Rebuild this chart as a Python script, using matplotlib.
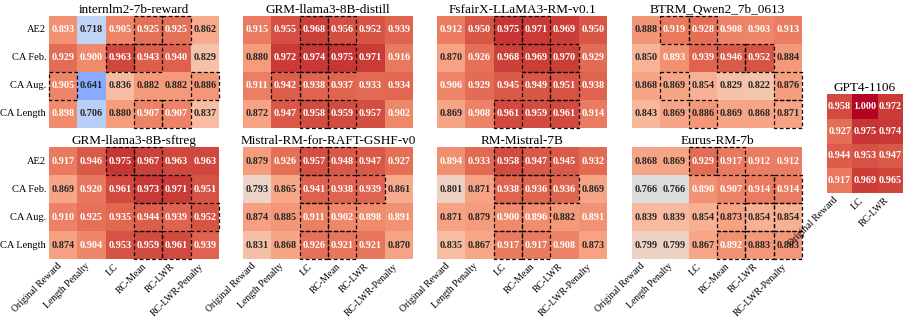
import matplotlib
matplotlib.use("Agg")
import matplotlib.pyplot as plt
import numpy as np
import seaborn as sns
from matplotlib.patches import Rectangle

plt.rcParams['font.family'] = ['Liberation Serif', 'DejaVu Serif']

row_labels = ["AE2", "CA Feb.", "CA Aug.", "CA Length"]
col_labels = ["Original Reward", "Length Penalty", "LC", "RC-Mean", "RC-LWR", "RC-LWR-Penalty"]

titles = [
    "internlm2-7b-reward", "GRM-llama3-8B-distill", "FsfairX-LLaMA3-RM-v0.1", "BTRM_Qwen2_7b_0613",
    "GRM-llama3-8B-sftreg", "Mistral-RM-for-RAFT-GSHF-v0", "RM-Mistral-7B", "Eurus-RM-7b",
]

internlm2 = [[0.893, 0.718, 0.905, 0.925, 0.925, 0.862],
             [0.929, 0.900, 0.963, 0.943, 0.940, 0.829],
             [0.905, 0.641, 0.836, 0.882, 0.882, 0.886],
             [0.898, 0.706, 0.880, 0.907, 0.907, 0.837]]
grm_distill = [[0.915, 0.955, 0.968, 0.956, 0.952, 0.939],
               [0.880, 0.972, 0.974, 0.975, 0.971, 0.916],
               [0.911, 0.942, 0.938, 0.937, 0.933, 0.934],
               [0.872, 0.947, 0.958, 0.959, 0.957, 0.902]]
fsfairx = [[0.912, 0.950, 0.975, 0.971, 0.969, 0.950],
           [0.870, 0.926, 0.968, 0.969, 0.970, 0.929],
           [0.906, 0.929, 0.945, 0.949, 0.951, 0.938],
           [0.869, 0.908, 0.961, 0.959, 0.961, 0.914]]
btrm = [[0.888, 0.919, 0.928, 0.908, 0.903, 0.913],
        [0.850, 0.893, 0.939, 0.946, 0.952, 0.884],
        [0.868, 0.869, 0.854, 0.829, 0.822, 0.876],
        [0.843, 0.869, 0.886, 0.869, 0.868, 0.871]]
grm_sftreg = [[0.917, 0.946, 0.975, 0.967, 0.963, 0.963],
              [0.869, 0.920, 0.961, 0.973, 0.971, 0.951],
              [0.910, 0.925, 0.935, 0.944, 0.939, 0.952],
              [0.874, 0.904, 0.953, 0.959, 0.961, 0.939]]
mistral_raft = [[0.879, 0.926, 0.957, 0.948, 0.947, 0.927],
                [0.793, 0.865, 0.941, 0.938, 0.939, 0.861],
                [0.874, 0.885, 0.911, 0.902, 0.898, 0.891],
                [0.831, 0.868, 0.926, 0.921, 0.921, 0.870]]
rm_mistral = [[0.894, 0.933, 0.958, 0.947, 0.945, 0.932],
              [0.801, 0.871, 0.938, 0.936, 0.936, 0.869],
              [0.871, 0.879, 0.900, 0.896, 0.882, 0.891],
              [0.835, 0.867, 0.917, 0.917, 0.908, 0.873]]
eurus = [[0.868, 0.869, 0.929, 0.917, 0.912, 0.912],
         [0.766, 0.766, 0.890, 0.907, 0.914, 0.914],
         [0.839, 0.839, 0.854, 0.873, 0.854, 0.854],
         [0.799, 0.799, 0.867, 0.892, 0.883, 0.883]]

# highlighted (row, col) cells, drawn with dashed boxes
best_cells = [
    [(0, 3), (0, 4), (1, 2), (1, 3), (2, 0), (2, 5), (3, 3), (3, 4)],
    [(0, 2), (0, 3), (1, 2), (1, 3), (2, 1), (2, 2), (3, 2), (3, 3)],
    [(0, 2), (0, 3), (1, 3), (1, 4), (2, 3), (2, 4), (3, 2), (3, 4)],
    [(0, 1), (0, 2), (1, 3), (1, 4), (2, 1), (2, 5), (3, 2), (3, 5)],
    [(0, 2), (0, 3), (1, 3), (1, 4), (2, 3), (2, 5), (3, 3), (3, 4)],
    [(0, 2), (0, 3), (1, 2), (1, 4), (2, 2), (2, 3), (3, 2), (3, 3)],
    [(0, 2), (0, 3), (1, 2), (1, 3), (1, 4), (2, 2), (2, 3), (3, 2), (3, 3)],
    [(0, 2), (0, 3), (1, 4), (1, 5), (2, 3), (2, 4), (2, 5), (3, 3), (3, 4), (3, 5)],
]

gpt4_cols = ["Original Reward", "LC", "RC-LWR"]
gpt4 = [[0.958, 1.000, 0.972],
        [0.927, 0.975, 0.974],
        [0.944, 0.953, 0.947],
        [0.917, 0.969, 0.965]]

panels = [internlm2, grm_distill, fsfairx, btrm, grm_sftreg, mistral_raft, rm_mistral, eurus]

fig = plt.figure(figsize=(9.14, 3.19), dpi=100)
W, H = 914, 319
lefts = [49, 243, 437, 632]
tops = [16, 147]
pw, ph = 170, 112

vmin, vmax = 0.53, 1.0
annot_kw = {"fontsize": 7.3, "fontweight": "bold"}

for i, (data, title, cells) in enumerate(zip(panels, titles, best_cells)):
    r, c = divmod(i, 4)
    ax = fig.add_axes([lefts[c] / W, 1 - (tops[r] + ph) / H, pw / W, ph / H])
    sns.heatmap(np.array(data), ax=ax, cmap="coolwarm", vmin=vmin, vmax=vmax,
                annot=True, fmt=".3f", annot_kws=annot_kw, cbar=False,
                xticklabels=col_labels if r == 1 else False,
                yticklabels=row_labels if c == 0 else False)
    for (rr, cc) in cells:
        ax.add_patch(Rectangle((cc, rr), 1, 1, fill=False, edgecolor="black",
                               linestyle=(0, (3, 2)), linewidth=0.9, clip_on=False))
    ax.set_title(title, fontsize=9.5, pad=2)
    ax.tick_params(length=0, pad=2)
    if c == 0:
        plt.setp(ax.get_yticklabels(), rotation=0, fontsize=7.5)
    if r == 1:
        plt.setp(ax.get_xticklabels(), rotation=45, ha="right", fontsize=7)

ax = fig.add_axes([827 / W, 1 - 193 / H, 76 / W, 99 / H])
sns.heatmap(np.array(gpt4), ax=ax, cmap="coolwarm", vmin=vmin, vmax=vmax,
            annot=True, fmt=".3f", annot_kws=annot_kw, cbar=False,
            xticklabels=gpt4_cols, yticklabels=False)
ax.set_title("GPT4-1106", fontsize=9.5, pad=2)
ax.tick_params(length=0, pad=2)
plt.setp(ax.get_xticklabels(), rotation=45, ha="right", fontsize=7)

fig.savefig("out.png", dpi=100)
